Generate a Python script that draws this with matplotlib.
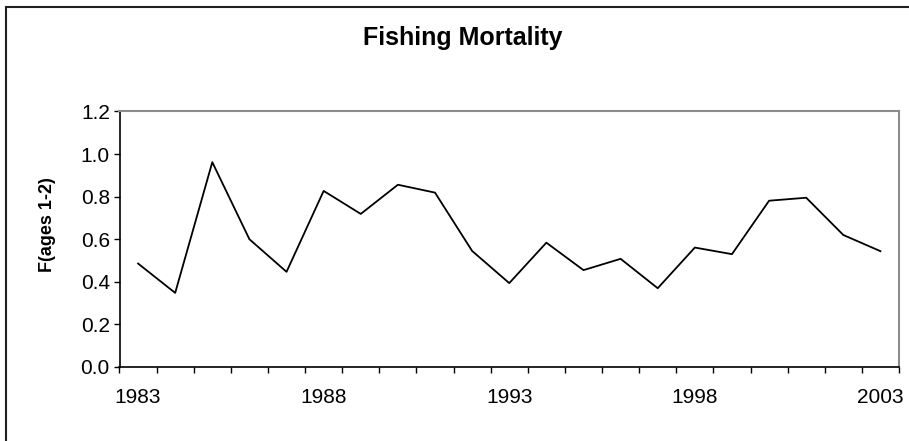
import numpy as np
import matplotlib
matplotlib.use("Agg")
import matplotlib.pyplot as plt
from matplotlib.patches import Rectangle

# ---- data ----
years = list(range(1983, 2004))
f_ages_1_2 = [0.486, 0.348, 0.962, 0.600, 0.447, 0.827, 0.719, 0.856, 0.819, 0.545,
              0.394, 0.584, 0.455, 0.508, 0.370, 0.561, 0.530, 0.781, 0.795, 0.620,
              0.544]
year_labels = ["1983", "1988", "1993", "1998", "2003"]
y_ticks = [0.0, 0.2, 0.4, 0.6, 0.8, 1.0, 1.2]

plt.rcParams['font.family'] = ['Liberation Sans', 'DejaVu Sans']

W, H = 909, 441
fig = plt.figure(figsize=(W / 100, H / 100), dpi=100)

# plot area in pixels
left, right, top, bottom = 119.5, 899, 111.5, 367
ax = fig.add_axes([left / W, 1 - bottom / H, (right - left) / W, (bottom - top) / H])

x = np.arange(len(years))
ax.plot(x, f_ages_1_2, color='black', lw=1.3)

ax.set_xlim(-0.5, len(years) - 0.5)
ax.set_ylim(0, 1.2)

# category axis: ticks between categories, labels every 5 years
ax.set_xticks(np.arange(-0.5, len(years)), labels=[])
label_pos = [years.index(int(s)) for s in year_labels]
ax.set_xticks(label_pos, labels=year_labels, minor=True)
ax.tick_params(axis='x', which='major', direction='out', length=4.5, width=1, color='black')
ax.tick_params(axis='x', which='minor', length=0, pad=15, labelsize=15)

ax.set_yticks(y_ticks, labels=[f"{v:.1f}" for v in y_ticks])
ax.tick_params(axis='y', direction='out', length=4, width=1, color='black', labelsize=15, pad=3)

for s in ['left', 'bottom']:
    ax.spines[s].set_color('black')
    ax.spines[s].set_linewidth(1.2)
for s in ['top', 'right']:
    ax.spines[s].set_color('#8c8c8c')
    ax.spines[s].set_linewidth(1.5)

ax.set_ylabel("F(ages 1-2)", fontsize=13, fontweight='bold', va='center')
ax.yaxis.set_label_coords((47 - left) / (right - left), (bottom - 225) / (bottom - top))

fig.text(462.5 / W, 1 - 38 / H, "Fishing Mortality", ha='center', va='center',
         fontsize=18, fontweight='bold')

# outer chart border (cut off at right and bottom)
fig.add_artist(Rectangle((5.5 / W, -0.1), 2, 1 - 6.5 / H + 0.1, fill=False,
                         edgecolor='#202020', lw=1.5, transform=fig.transFigure))

fig.savefig("out.png", dpi=100, facecolor='white')
